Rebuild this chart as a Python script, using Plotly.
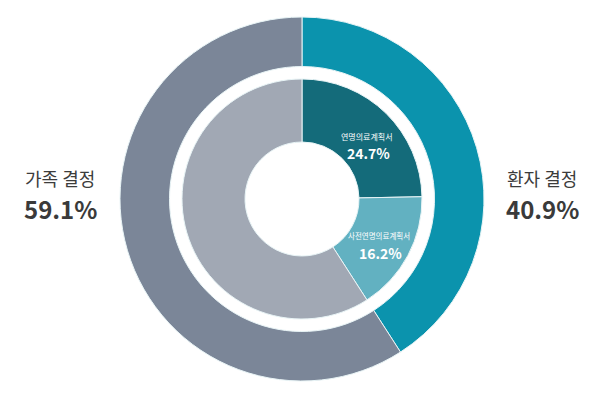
import plotly.graph_objects as go

# Data
outer_labels = ["환자 결정", "가족 결정"]
outer_values = [40.9, 59.1]
inner_labels = ["연명의료계획서", "사전연명의료계획서", "가족 결정"]
inner_values = [24.7, 16.2, 59.1]

outer_colors = ["#0b93ad", "#7b8698"]
inner_colors = ["#146b7a", "#62b1c1", "#a1a8b4"]

W, H = 600, 396
cx, cy = 302, 199  # center in px (from top-left)
R_out, R_in = 182, 120


def dom(r):
    return dict(x=[(cx - r) / W, (cx + r) / W],
                y=[(H - cy - r) / H, (H - cy + r) / H])


fig = go.Figure()
fig.add_trace(go.Pie(
    labels=outer_labels, values=outer_values, sort=False, direction="clockwise",
    rotation=0, hole=132.5 / R_out, domain=dom(R_out),
    marker=dict(colors=outer_colors, line=dict(color="#e8f4f6", width=1)),
    textinfo="none", hoverinfo="label+percent", showlegend=False,
))
fig.add_trace(go.Pie(
    labels=inner_labels, values=inner_values, sort=False, direction="clockwise",
    rotation=0, hole=57 / R_in, domain=dom(R_in),
    marker=dict(colors=inner_colors, line=dict(color="#e8f4f6", width=1)),
    textinfo="none", hoverinfo="label+percent", showlegend=False,
))

FONT = "Noto Sans CJK KR"


def px(x, y):
    return x / W, 1 - y / H


def ann(x, y, text, size, color):
    ax, ay = px(x, y)
    return dict(x=ax, y=ay, text=text, showarrow=False, xref="paper", yref="paper",
                xanchor="center", yanchor="middle",
                font=dict(family=FONT, size=size, color=color))


anns = []
# side labels
for (x, lbl, val) in [(60, outer_labels[1], outer_values[1]), (542, outer_labels[0], outer_values[0])]:
    anns.append(ann(x, 178, lbl, 18, "#3c3c3c"))
    anns.append(ann(x, 208, f"<b>{val:.1f}%</b>", 24, "#3a3a3a"))

# inner slice labels
for (x1, x2, y1, y2, lbl, val, fs) in [(367, 368, 136, 153, inner_labels[0], inner_values[0], 8),
                                       (379, 380, 236, 253, inner_labels[1], inner_values[1], 7.5)]:
    anns.append(ann(x1, y1, lbl, fs, "white"))
    anns.append(ann(x2, y2, f"<b>{val:.1f}%</b>", 14, "white"))

fig.update_layout(
    width=W, height=H, margin=dict(l=0, r=0, t=0, b=0),
    paper_bgcolor="white", plot_bgcolor="white",
    annotations=anns, showlegend=False,
)

fig.write_html("out.html")
